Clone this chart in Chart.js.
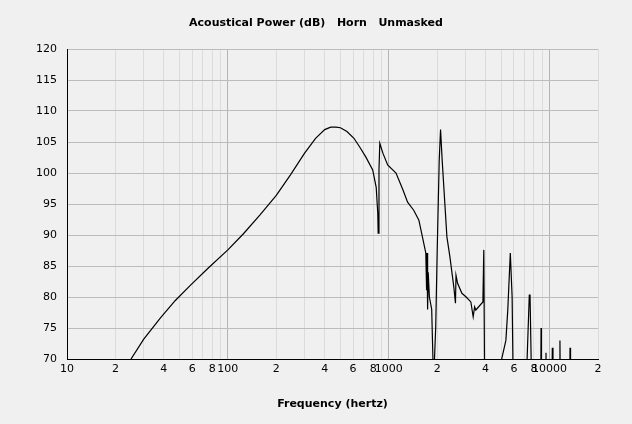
<!DOCTYPE html>
<html>
<head>
<meta charset="utf-8">
<script src="https://cdn.jsdelivr.net/npm/chart.js@4/dist/chart.umd.min.js"></script>
<style>
  html, body { margin: 0; padding: 0; background: #f0f0f0; }
  #wrap { width: 632px; height: 424px; position: relative; }
</style>
</head>
<body>
<div id="wrap"><canvas id="chart"></canvas></div>
<script>
// Data
const chartTitle = "Acoustical Power (dB)   Horn   Unmasked";
const xTitle = "Frequency (hertz)";
const freq = [25, 30, 38, 47, 58, 75, 100, 125, 158, 200, 245, 300, 351, 400, 436, 470, 501, 550, 608, 660, 720, 795, 836, 855, 860, 870, 880, 920, 985, 1110, 1225, 1310, 1430, 1540, 1620, 1700, 1720, 1730, 1745, 1760, 1790, 1850, 1900, 1960, 2000, 2060, 2100, 2150, 2300, 2400, 2540, 2600, 2620, 2680, 2850, 3030, 3240, 3350, 3420, 3480, 3850, 3900, 3960, 4840, 5350, 5500, 5700, 5850, 5980, 7140, 7480, 7560, 7800, 8800, 8850, 8900, 9400, 9500, 9600, 10300, 10400, 10500, 11500, 11600, 11700, 13300, 13400, 13500];
const power = [70, 73.2, 76.6, 79.4, 81.8, 84.6, 87.6, 90.2, 93.2, 96.4, 99.7, 103.2, 105.6, 107.0, 107.4, 107.4, 107.3, 106.7, 105.6, 104.2, 102.6, 100.5, 97.7, 93.5, 90.3, 100.5, 104.8, 103.2, 101.3, 100, 97.3, 95.3, 94, 92.4, 89.7, 87.1, 81.1, 87.1, 78, 84, 80, 78, 66, 75.2, 87, 102, 107, 102, 89.7, 86.5, 81.6, 79, 83.5, 82.2, 80.6, 80, 79.2, 76.8, 78.4, 77.9, 79.2, 87.6, 60, 68, 73, 78, 87.1, 80, 60, 65, 80.3, 80.3, 60, 60, 75, 60, 60, 71, 60, 60, 71.8, 60, 60, 73, 60, 60, 71.8, 60];
const xTicks = [10, 20, 30, 40, 50, 60, 70, 80, 90, 100, 200, 300, 400, 500, 600, 700, 800, 900, 1000, 2000, 3000, 4000, 5000, 6000, 7000, 8000, 9000, 10000, 20000];
const xLabels = ["10", "2", "", "4", "", "6", "", "8", "", "100", "2", "", "4", "", "6", "", "8", "", "1000", "2", "", "4", "", "6", "", "8", "", "10000", "2"];

const points = freq.map(function (f, i) { return { x: f, y: power[i] }; });

const font = { family: "Verdana, 'DejaVu Sans', sans-serif", size: 11 };

const titlePlugin = {
  id: "topTitle",
  afterDraw: function (chart) {
    const ctx = chart.ctx;
    ctx.save();
    ctx.fillStyle = "#000";
    ctx.font = "bold 11px 'DejaVu Sans', sans-serif";
    ctx.textAlign = "center";
    ctx.textBaseline = "middle";
    ctx.fillText(chartTitle, 316, 23);
    ctx.restore();
  }
};

new Chart(document.getElementById("chart"), {
  type: "line",
  data: {
    datasets: [{
      data: points,
      borderColor: "#000",
      borderWidth: 1.2,
      pointRadius: 0,
      tension: 0,
      fill: false
    }]
  },
  plugins: [titlePlugin],
  options: {
    responsive: true,
    maintainAspectRatio: false,
    animation: false,
    layout: { padding: { top: 49, right: 34, left: 0, bottom: 9 } },
    plugins: { legend: { display: false }, tooltip: { enabled: false } },
    scales: {
      x: {
        type: "logarithmic",
        min: 10,
        max: 20000,
        afterBuildTicks: function (axis) {
          axis.ticks = xTicks.map(function (v) { return { value: v }; });
        },
        afterFit: function (axis) { axis.height = 56; },
        ticks: {
          autoSkip: false,
          maxRotation: 0,
          color: "#000",
          font: font,
          padding: 4,
          callback: function (v, i) { return xLabels[i]; }
        },
        grid: {
          drawTicks: false,
          color: function (c) {
            const v = c.tick && c.tick.value;
            if (!v) return "#d8d8d8";
            const l = Math.log10(v);
            return Math.abs(l - Math.round(l)) < 1e-6 ? "#b4b4b4" : "#dcdcdc";
          }
        },
        border: { color: "#000", width: 1 },
        title: { display: true, text: xTitle, color: "#000", font: { family: "'DejaVu Sans', sans-serif", size: 11, weight: "bold" }, padding: { top: 12 } }
      },
      y: {
        min: 70,
        max: 120,
        afterFit: function (axis) { axis.width = 67; },
        ticks: { stepSize: 5, color: "#000", font: font, padding: 10 },
        grid: { drawTicks: false, color: "#bcbcbc" },
        border: { color: "#000", width: 1 }
      }
    }
  }
});
</script>
</body>
</html>
